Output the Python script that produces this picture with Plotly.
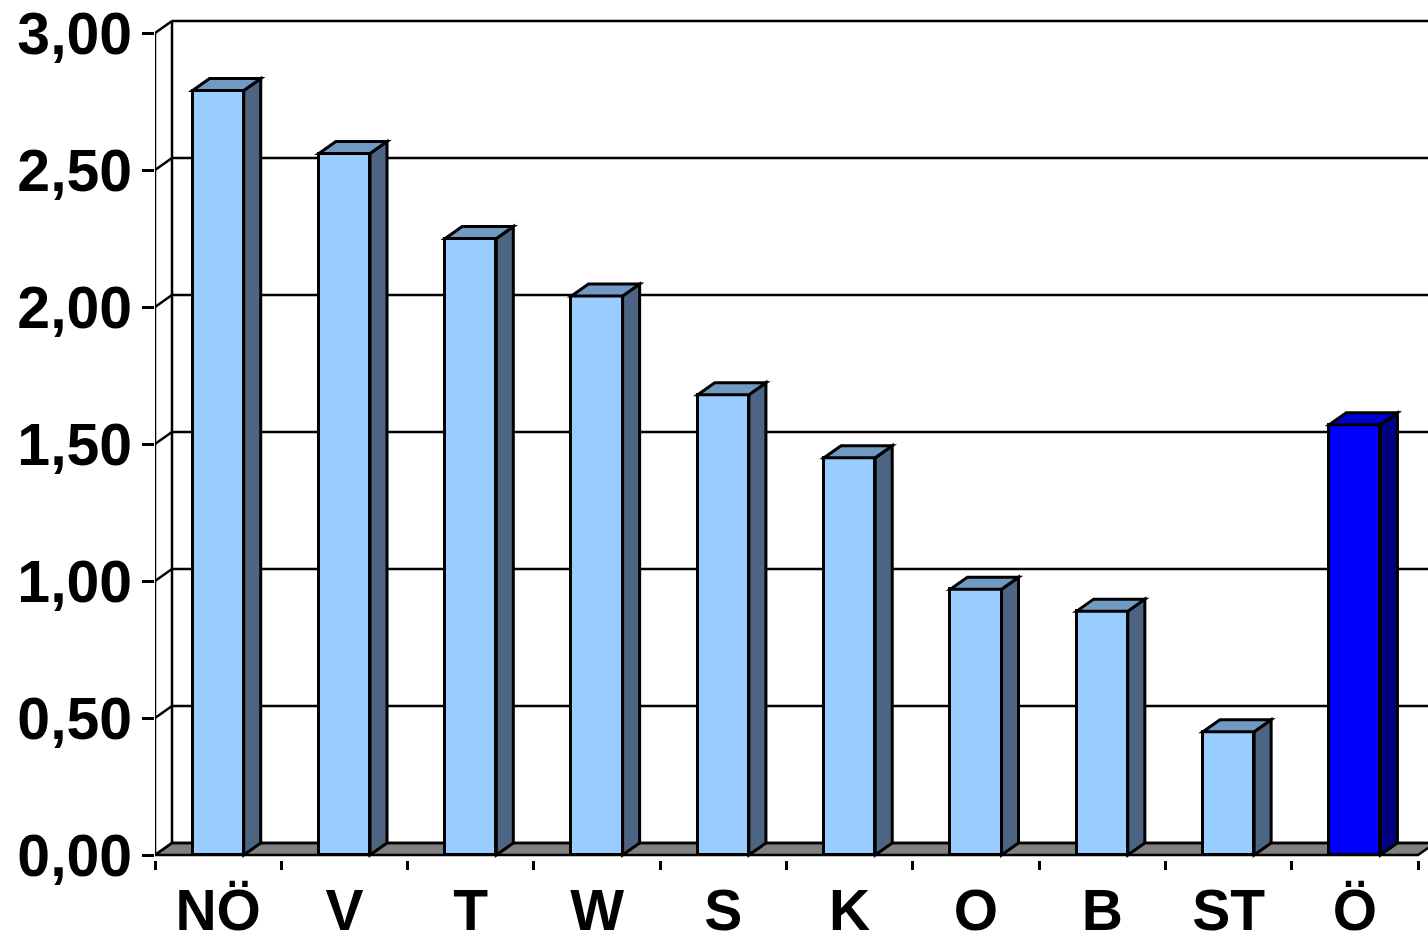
import plotly.graph_objects as go

# Regional values (Bundesländer and Österreich total)
categories = ["NÖ", "V", "T", "W", "S", "K", "O", "B", "ST", "Ö"]
values = [2.79, 2.56, 2.25, 2.04, 1.68, 1.45, 0.97, 0.89, 0.45, 1.57]
y_ticks = [0.0, 0.5, 1.0, 1.5, 2.0, 2.5, 3.0]
y_tick_text = ["0,00", "0,50", "1,00", "1,50", "2,00", "2,50", "3,00"]

# Colours: front, top, side faces
light = ("#99CCFF", "#7099C4", "#4D6482")
total = ("#0000FF", "#0000CC", "#000080")
face_sets = [total if c == "Ö" else light for c in categories]

# Layout geometry (pixels) and pseudo-3D depth in data units
W, H = 1428, 946
ML, MB = 155, 86
px_per_cat = 126.3
px_per_val = 274.0
depth_x = 17 / px_per_cat
depth_y = 12 / px_per_val
half_w = 0.2025

x_lo = -0.5
x_hi = x_lo + (W - ML) / px_per_cat
y_lo = -5 / px_per_val
y_hi = y_lo + (H - MB) / px_per_val

idx = list(range(len(categories)))

fig = go.Figure()

# Front faces of the columns
fig.add_trace(go.Bar(
    x=idx, y=values, width=2 * half_w,
    marker=dict(color=[f[0] for f in face_sets], line=dict(color="black", width=3)),
    hoverinfo="skip", showlegend=False,
))

shapes = []

def path(points):
    return "M " + " L ".join(f"{px},{py}" for px, py in points) + " Z"

# Floor
last = x_lo + len(categories)
shapes.append(dict(
    type="path", xref="x", yref="y", layer="below",
    path=path([(x_lo, 0), (last, 0), (last + depth_x, depth_y), (x_lo + depth_x, depth_y)]),
    fillcolor="#808080", line=dict(color="black", width=2.5),
))

# Back-wall gridlines, wall edges and the connecting diagonals
for v in y_ticks:
    shapes.append(dict(type="line", xref="x", yref="y", layer="below",
                       x0=x_lo + depth_x, x1=x_hi + 1, y0=v + depth_y, y1=v + depth_y,
                       line=dict(color="black", width=2.5)))
    shapes.append(dict(type="line", xref="x", yref="y", layer="below",
                       x0=x_lo, x1=x_lo + depth_x, y0=v, y1=v + depth_y,
                       line=dict(color="black", width=2.5)))
shapes.append(dict(type="line", xref="x", yref="y", layer="below",
                   x0=x_lo + depth_x, x1=x_lo + depth_x, y0=depth_y, y1=y_ticks[-1] + depth_y,
                   line=dict(color="black", width=2.5)))
# Front value axis
shapes.append(dict(type="line", xref="x", yref="y", layer="above",
                   x0=x_lo, x1=x_lo, y0=0, y1=y_ticks[-1],
                   line=dict(color="black", width=2.5)))

# Top and side faces of each column
for i, v in enumerate(values):
    _, top_c, side_c = face_sets[i]
    l, r = i - half_w, i + half_w
    shapes.append(dict(
        type="path", xref="x", yref="y", layer="above",
        path=path([(r, 0), (r + depth_x, depth_y), (r + depth_x, v + depth_y), (r, v)]),
        fillcolor=side_c, line=dict(color="black", width=3),
    ))
    shapes.append(dict(
        type="path", xref="x", yref="y", layer="above",
        path=path([(l, v), (l + depth_x, v + depth_y), (r + depth_x, v + depth_y), (r, v)]),
        fillcolor=top_c, line=dict(color="black", width=3),
    ))

label_font = dict(family="Liberation Sans, Arial, sans-serif", color="black", weight="bold")

fig.update_layout(
    width=W, height=H,
    margin=dict(l=ML, r=0, t=0, b=MB, pad=0),
    paper_bgcolor="white", plot_bgcolor="white",
    shapes=shapes,
    bargap=0,
    xaxis=dict(
        range=[x_lo, x_hi], showgrid=False, zeroline=False, showline=False,
        automargin=False,
        tickmode="array", tickvals=idx, ticktext=categories, ticks="",
        tickfont=dict(size=57, **label_font), ticklabelstandoff=12,
        minor=dict(tickmode="array", tickvals=[x_lo + k for k in range(len(categories) + 1)],
                   ticks="outside", ticklen=9, tickwidth=2.5, tickcolor="black"),
    ),
    yaxis=dict(
        range=[y_lo, y_hi], showgrid=False, zeroline=False, showline=False,
        automargin=False,
        tickmode="array", tickvals=y_ticks, ticktext=y_tick_text,
        ticks="outside", ticklen=12, tickwidth=2.5, tickcolor="black",
        tickfont=dict(size=59, **label_font), ticklabelstandoff=-2,
    ),
)

fig.write_html("out.html")
